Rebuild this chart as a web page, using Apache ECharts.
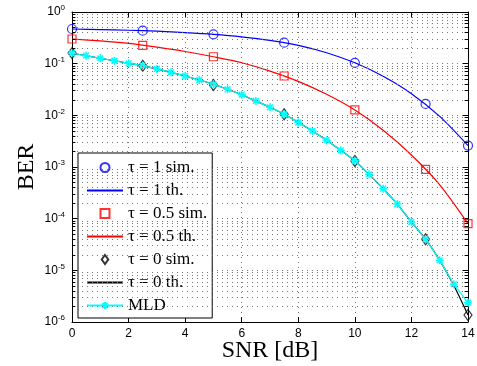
<!DOCTYPE html>
<html>
<head>
<meta charset="utf-8">
<script src="https://cdn.jsdelivr.net/npm/echarts@6/dist/echarts.min.js"></script>
<style>
  html, body { margin: 0; padding: 0; background: #fff; }
  #chart { width: 477px; height: 366px; }
</style>
</head>
<body>
<div id="chart"></div>
<script>
// simulated points
const snrSim = [0, 2.5, 5, 7.5, 10, 12.5, 14];
const berSimTau1 = [0.469, 0.435, 0.37, 0.255, 0.104, 0.0166, 0.0026];
const berSimTau05 = [0.30, 0.226, 0.136, 0.0577, 0.0127, 9.0e-4, 8.0e-5];
const berSimTau0 = [0.16, 0.0913, 0.0386, 0.0105, 1.3e-3, 4.0e-5, 1.37e-6];

// theoretical curves
const snrTh = [0, 1, 2, 3, 4, 5, 6, 7, 8, 9, 10, 11, 12, 13, 14];
const berThTau1 = [0.469, 0.457, 0.443, 0.425, 0.40, 0.37, 0.331, 0.283, 0.226, 0.163, 0.104, 0.0571, 0.0263, 0.00955, 0.0026];
const berThTau05 = [0.30, 0.275, 0.247, 0.209, 0.172, 0.136, 0.104, 0.0719, 0.0454, 0.0255, 0.0127, 5.16e-3, 1.71e-3, 4.52e-4, 8.0e-5];

const snrFine = [0, 0.5, 1, 1.5, 2, 2.5, 3, 3.5, 4, 4.5, 5, 5.5, 6, 6.5, 7, 7.5, 8, 8.5, 9, 9.5, 10, 10.5, 11, 11.5, 12, 12.5, 13, 13.5, 14];
const berThTau0 = [0.159, 0.1426, 0.127, 0.114, 0.1016, 0.0914, 0.079, 0.068, 0.0577, 0.0483, 0.0399, 0.0319, 0.0251, 0.019, 0.0143, 0.0105, 7.3e-3, 5.0e-3, 3.3e-3, 2.1e-3, 1.32e-3, 7.2e-4, 3.8e-4, 1.92e-4, 8.6e-5, 4.0e-5, 1.56e-5, 5.1e-6, 1.37e-6];
const berMld = [0.159, 0.1426, 0.127, 0.114, 0.1016, 0.0914, 0.079, 0.068, 0.0577, 0.0483, 0.0399, 0.0319, 0.0251, 0.019, 0.0143, 0.0105, 7.3e-3, 5.0e-3, 3.3e-3, 2.1e-3, 1.32e-3, 7.2e-4, 3.8e-4, 1.92e-4, 8.6e-5, 4.0e-5, 1.56e-5, 5.4e-6, 2.37e-6];

const names = ['τ = 1 sim.', 'τ = 1 th.', 'τ = 0.5 sim.', 'τ = 0.5 th.', 'τ = 0 sim.', 'τ = 0 th.', 'MLD'];

const pair = (xs, ys) => xs.map((x, i) => [x, ys[i]]);

const STAR = 'path://M0,-5L0,5M-5,0L5,0M-3.6,-3.6L3.6,3.6M-3.6,3.6L3.6,-3.6';
const SQUARE = 'path://M0,0L8,0L8,8L0,8Z';
const DIAMOND = 'path://M4,0L8,5.5L4,11L0,5.5Z';
const SERIF = 'Liberation Serif';
const SANS = 'Liberation Sans';
const gridDot = { type: [1, 4], color: '#777', width: 1 };

// minor decades 2..9 for the log axis grid + ticks
const minorVals = [];
for (let e = -6; e < 0; e++) {
  for (let k = 2; k <= 9; k++) minorVals.push(k * Math.pow(10, e));
}
const minorLines = [];
minorVals.forEach(v => {
  minorLines.push([{ coord: [0, v], lineStyle: gridDot }, { coord: [14, v] }]);
  minorLines.push([{ coord: [0, v], lineStyle: { type: 'solid', color: '#000', width: 1 } }, { coord: [0.12, v] }]);
  minorLines.push([{ coord: [13.88, v], lineStyle: { type: 'solid', color: '#000', width: 1 } }, { coord: [14, v] }]);
});

const chart = echarts.init(document.getElementById('chart'), null, { renderer: 'canvas' });

const axisBase = {
  axisLine: { show: true, onZero: false, lineStyle: { color: '#000', width: 1 } },
  axisTick: { show: true, inside: true, length: 5, lineStyle: { color: '#000' } }
};

const noMarker = { opacity: 0 };

chart.setOption({
  animation: false,
  backgroundColor: '#fff',
  grid: { left: 72, right: 9, top: 12, bottom: 44, outerBoundsMode: 'none', containLabel: false },
  legend: {
    orient: 'vertical',
    left: 78,
    top: 153,
    padding: [6, 5, 4, 8],
    itemWidth: 36,
    itemHeight: 9,
    itemGap: 6,
    backgroundColor: '#fff',
    borderColor: '#000',
    borderWidth: 1,
    borderRadius: 0,
    textStyle: { fontFamily: SERIF, fontSize: 17, lineHeight: 17, color: '#000' },
    data: [
      { name: names[0], icon: 'circle' },
      { name: names[1], itemStyle: noMarker },
      { name: names[2], icon: SQUARE },
      { name: names[3], itemStyle: noMarker },
      { name: names[4], icon: DIAMOND },
      { name: names[5], itemStyle: noMarker },
      { name: names[6] }
    ]
  },
  xAxis: [
    Object.assign({}, axisBase, {
      type: 'value', min: 0, max: 14, interval: 2, position: 'bottom',
      axisLabel: { fontFamily: SANS, fontSize: 12, color: '#000', margin: 6 },
      splitLine: { show: true, lineStyle: gridDot },
      name: 'SNR [dB]', nameLocation: 'middle', nameGap: 17, nameMoveOverlap: false,
      nameTextStyle: { fontFamily: SERIF, fontSize: 24, color: '#000' }
    }),
    Object.assign({}, axisBase, {
      type: 'value', min: 0, max: 14, interval: 2, position: 'top',
      axisLabel: { show: false }, splitLine: { show: false }
    })
  ],
  yAxis: [
    Object.assign({}, axisBase, {
      type: 'log', logBase: 10, min: 1e-6, max: 1, interval: 1, position: 'left',
      axisLabel: {
        margin: 7,
        formatter: v => '{b|10}{s|' + Math.round(Math.log10(v)) + '}',
        rich: {
          b: { fontFamily: SANS, fontSize: 12, color: '#000', lineHeight: 16, verticalAlign: 'middle' },
          s: { fontFamily: SANS, fontSize: 8, color: '#000', lineHeight: 16, verticalAlign: 'top' }
        }
      },
      splitLine: { show: true, lineStyle: gridDot },
      name: 'BER', nameLocation: 'middle', nameGap: 33, nameMoveOverlap: false,
      nameTextStyle: { fontFamily: SERIF, fontSize: 24, color: '#000' }
    }),
    Object.assign({}, axisBase, {
      type: 'log', logBase: 10, min: 1e-6, max: 1, interval: 1, position: 'right',
      axisLabel: { show: false }, splitLine: { show: false }
    })
  ],
  series: [
    {
      type: 'line', data: [], silent: true, z: 1,
      markLine: { silent: true, symbol: ['none', 'none'], label: { show: false }, data: minorLines, animation: false }
    },
    {
      name: names[0], type: 'scatter', data: pair(snrSim, berSimTau1), symbol: 'circle', symbolSize: 9,
      itemStyle: { color: 'transparent', borderColor: '#0000ff', borderWidth: 1.2 }, z: 3
    },
    {
      name: names[1], type: 'line', data: pair(snrTh, berThTau1), symbol: 'none', smooth: 0.3,
      lineStyle: { color: '#0000ff', width: 1.2 }, itemStyle: { color: '#0000ff' }, z: 3
    },
    {
      name: names[2], type: 'scatter', data: pair(snrSim, berSimTau05), symbol: 'rect', symbolSize: 8,
      itemStyle: { color: 'transparent', borderColor: '#ff0000', borderWidth: 1.2 }, z: 3
    },
    {
      name: names[3], type: 'line', data: pair(snrTh, berThTau05), symbol: 'none', smooth: 0.3,
      lineStyle: { color: '#ff0000', width: 1.2 }, itemStyle: { color: '#ff0000' }, z: 3
    },
    {
      name: names[4], type: 'scatter', data: pair(snrSim, berSimTau0), symbol: 'diamond', symbolSize: [8, 11],
      itemStyle: { color: 'transparent', borderColor: '#000', borderWidth: 1.2 }, z: 3
    },
    {
      name: names[5], type: 'line', data: pair(snrFine, berThTau0), symbol: 'none', smooth: 0.2,
      lineStyle: { color: '#000', width: 1.2 }, itemStyle: { color: '#000' }, z: 3
    },
    {
      name: names[6], type: 'line', data: pair(snrFine, berMld), symbol: STAR, symbolSize: 8, showAllSymbol: true,
      smooth: 0.2,
      lineStyle: { color: '#00ffff', width: 1.2 },
      itemStyle: { color: '#00ffff', borderColor: '#00ffff', borderWidth: 1.5 }, z: 4
    }
  ]
});
</script>
</body>
</html>
